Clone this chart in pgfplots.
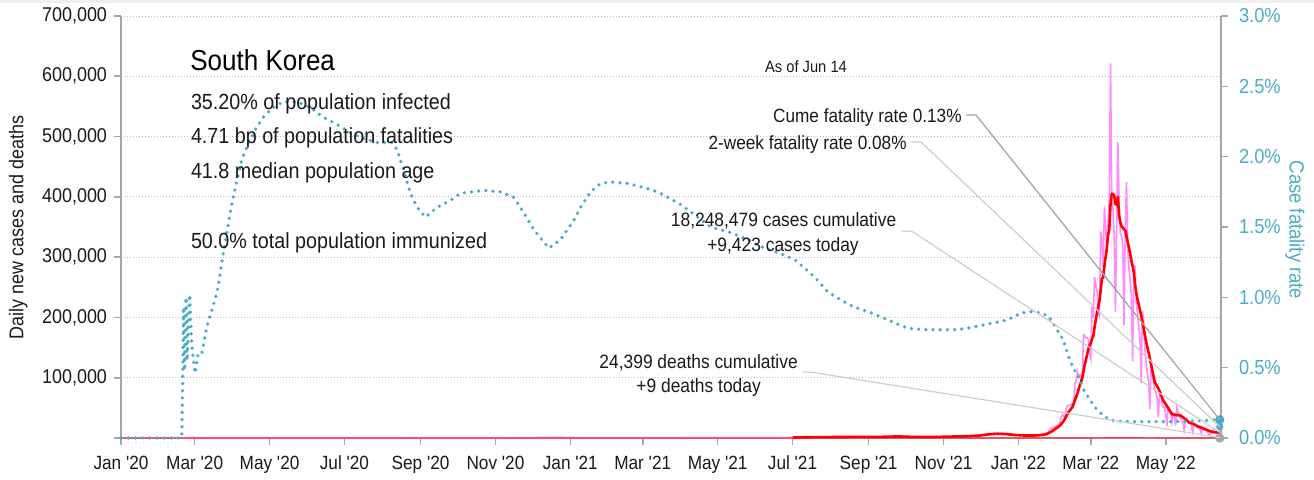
\documentclass[border=0pt]{standalone}
\usepackage{pgfplots}
\pgfplotsset{compat=1.18}
\usepackage{fontspec}
\setmainfont{Liberation Sans}[FakeStretch=0.9,Ligatures=TeXOff]

\definecolor{cfrblue}{HTML}{4BACC6}
\definecolor{casepink}{HTML}{FF8CFF}
\definecolor{avgred}{HTML}{FF0000}
\definecolor{deathred}{HTML}{FF2A4A}
\definecolor{axisgrey}{HTML}{A6A6A6}
\definecolor{gridgrey}{HTML}{BBBBBB}
\definecolor{leaddark}{HTML}{A3A3A3}
\definecolor{leadlight}{HTML}{CDCDCD}
\definecolor{txt}{HTML}{1A1A1A}

% daily new cases
\pgfplotstableread{
day cases
0 0
48 1
52 200
56 500
59 900
62 600
66 400
70 200
80 100
91 100
105 30
121 10
152 40
182 50
213 30
239 440
258 110
274 70
305 100
329 580
349 1000
359 1200
370 700
385 400
411 450
439 380
470 700
500 600
531 550
547 800
556 1400
571 1500
587 2200
602 2100
618 1900
633 3200
648 1600
663 1400
674 2300
689 3200
700 5100
707 7100
714 7800
721 7400
728 5400
735 4400
740 3000
745 4542
746 4194
747 3857
748 4071
749 5805
750 6603
751 6767
752 7009
753 7630
754 7513
755 8571
756 13012
757 14518
758 16096
759 17542
760 17528
761 18341
762 20270
763 20908
764 22907
765 27443
766 36362
767 38691
768 35286
769 36719
770 49567
771 54122
772 53926
773 54941
774 56431
775 53969
776 57177
777 90443
778 93135
779 109831
780 102211
781 104829
782 95362
783 99573
784 171452
785 170016
786 165890
787 166209
788 163565
789 139626
790 131000
791 219241
792 198803
793 266853
794 254327
795 243628
796 210716
797 202721
798 342446
799 327549
800 282987
801 383665
802 350190
803 309790
804 362338
805 400741
806 621328
807 407017
808 381454
809 334708
810 209169
811 353980
812 490881
813 395598
814 339514
815 335580
816 318130
817 187213
818 347554
819 424641
820 320743
821 280273
822 264171
823 234301
824 127190
825 266135
826 286294
827 224820
828 205333
829 185566
830 164481
831 90928
832 210755
833 195419
834 148443
835 125846
836 107916
837 93001
838 47743
839 118504
840 111319
841 90867
842 81058
843 75449
844 64725
845 34370
846 76787
847 76213
848 57464
849 50568
850 50568
851 37771
852 20084
853 51131
854 49064
855 42296
856 26714
857 40064
858 38000
859 20601
860 49933
861 43925
862 35907
863 32451
864 29581
865 25434
866 13296
867 29001
868 31815
869 26974
870 23955
871 25125
872 19298
873 9975
874 23956
875 22248
876 18806
877 16584
878 16931
879 14410
880 7922
881 17186
882 13357
883 14094
884 12542
885 9830
886 6403
887 5021
888 7358
889 13358
890 12161
891 10581
892 9438
893 7382
894 3828
895 9423
}\dailycases

% seven-day average of new cases
\pgfplotstableread{
day avg
547 700
556 1200
570 1480
590 1700
605 1850
620 1950
633 2600
645 1850
660 1600
675 2300
690 3000
700 4200
707 6100
714 7000
721 6400
728 5000
735 4200
744 4100
751 5120
754 6485
758 10621
761 15087
765 20706
768 28838
772 43525
775 51382
779 73704
780 80457
781 87371
782 93284
783 99341
784 110913
785 121896
786 129905
787 139047
788 147438
789 153762
790 158251
791 165078
792 169191
793 183614
794 196202
795 207640
796 217795
797 228041
798 245642
799 264034
800 266339
801 284816
802 300039
803 314193
804 336995
805 345323
806 387291
807 405010
808 404694
809 402482
810 388108
811 386914
812 399791
813 367544
814 357901
815 351347
816 348979
817 345842
818 344924
819 335461
820 324768
821 316305
822 306104
823 294128
824 285553
825 273922
826 254158
827 240455
828 229749
831 203365
835 160205
838 132732
842 92915
845 82327
849 62225
852 52779
856 39661
859 38267
863 37269
866 32932
870 25722
873 23735
877 19427
880 17265
884 13777
887 11205
891 9245
895 9453
}\avgcases

% daily deaths
\pgfplotstableread{
day deaths
0 0
50 0
60 5
90 5
150 1
240 2
350 20
370 20
420 5
547 2
700 50
730 40
790 150
806 300
820 350
850 100
895 9
}\dailydeaths

% case fatality rate, percent
\pgfplotstableread{
day cfr
0 0
48 0
49.5 0
50.2 0.41
51.0 0.93
51.8 0.48
53.0 1.00
53.8 0.55
55.9 1.02
57.7 0.65
60.4 0.46
62.8 0.60
65.8 0.60
69.9 0.79
74.0 0.91
78.1 1.03
80.8 1.17
83.4 1.32
86.2 1.46
88.9 1.60
91.4 1.71
94.4 1.83
98.5 1.98
102.5 2.07
109.3 2.19
115.8 2.28
124.0 2.35
132.1 2.39
143.3 2.39
154.2 2.35
164.8 2.28
175.9 2.23
186.8 2.17
197.4 2.13
208.6 2.10
220.8 2.10
224.9 2.05
230.0 1.91
235.7 1.74
241.2 1.64
248.0 1.57
257.5 1.64
268.4 1.69
276.5 1.74
295.5 1.76
309.1 1.75
320.0 1.71
328.1 1.60
336.3 1.48
348.5 1.35
358.1 1.41
368.9 1.55
374.4 1.64
382.5 1.75
390.7 1.81
398.9 1.82
412.5 1.81
426.0 1.78
436.9 1.75
447.8 1.70
455.9 1.66
466.8 1.59
480.4 1.50
496.7 1.46
510.4 1.41
523.9 1.35
537.5 1.31
548.4 1.27
559.3 1.19
567.5 1.12
575.6 1.04
586.5 0.98
597.3 0.93
610.9 0.89
624.6 0.84
640.9 0.78
654.4 0.77
668.0 0.77
681.6 0.77
695.2 0.79
711.5 0.82
722.4 0.84
733.3 0.89
744.1 0.90
755.1 0.87
761.8 0.78
767.3 0.70
771.4 0.59
775.5 0.50
779.5 0.44
784.9 0.33
793.1 0.22
801.2 0.15
809.4 0.12
825.7 0.116
852.9 0.116
880.1 0.123
895 0.13
}\cfr

\begin{document}
\begin{tikzpicture}
\useasboundingbox (-60.5bp,-21bp) rectangle (596.5bp,219bp);
\fill[black!6] (-60.5bp,217.5bp) rectangle (596.5bp,219bp);

% left axis: cases
\begin{axis}[
  at={(0bp,0bp)}, anchor=south west,
  width=550bp, height=211bp, scale only axis,
  xmin=0, xmax=896, ymin=0, ymax=700000,
  scaled y ticks=false,
  axis lines*=left,
  axis line style={axisgrey, line width=0.8bp},
  tick align=outside, major tick length=3.5bp,
  tick style={axisgrey, line width=0.8bp},
  xtick={0,60,121,182,244,305,366,425,486,547,609,670,731,790,851},
  xticklabels={Jan '20,Mar '20,May '20,Jul '20,Sep '20,Nov '20,Jan '21,Mar '21,May '21,Jul '21,Sep '21,Nov '21,Jan '22,Mar '22,May '22},
  xticklabel style={font=\fontsize{9.6}{11}\selectfont, text=txt, yshift=-2bp},
  ytick={0,100000,200000,300000,400000,500000,600000,700000},
  yticklabels={{},{100,000},{200,000},{300,000},{400,000},{500,000},{600,000},{700,000}},
  yticklabel style={font=\fontsize{10}{12}\selectfont, text=txt},
  ymajorgrids,
  grid style={gridgrey, line width=0.5bp, dash pattern=on 0.5bp off 1bp},
  clip=false,
]
\addplot[casepink, line width=0.8bp] table[x=day, y=cases] {\dailycases};
\addplot[deathred, line width=0.6bp] table[x=day, y=deaths] {\dailydeaths};
\addplot[avgred, line width=1.3bp, line join=round] table[x=day, y=avg] {\avgcases};
\addplot[only marks, mark=*, mark size=2.1bp, mark options={fill=axisgrey, draw=axisgrey}] coordinates {(895,9)};
\end{axis}

% right axis: case fatality rate
\begin{axis}[
  at={(0bp,0bp)}, anchor=south west,
  width=550bp, height=211bp, scale only axis,
  xmin=0, xmax=896, ymin=0, ymax=3,
  axis x line=none, axis y line*=right,
  axis line style={axisgrey, line width=0.8bp},
  tick align=outside, major tick length=3.5bp,
  tick style={axisgrey, line width=0.8bp},
  ytick={0,0.5,1,1.5,2,2.5,3},
  yticklabels={0.0\%,0.5\%,1.0\%,1.5\%,2.0\%,2.5\%,3.0\%},
  yticklabel style={font=\fontsize{10.2}{12}\selectfont, text=cfrblue, xshift=2bp},
  clip=false,
]
\addplot[cfrblue, line width=1.85bp, line cap=round, dash pattern=on 0bp off 3.6bp] table[x=day, y=cfr] {\cfr};
\addplot[only marks, mark=*, mark size=2.1bp, mark options={fill=cfrblue, draw=cfrblue}] coordinates {(895,0.13)};
\addplot[only marks, mark=*, mark size=1.6bp, mark options={fill=cfrblue, draw=cfrblue}] coordinates {(895,0.08)};
\end{axis}

% leader lines to the latest values
\draw[leaddark, line width=0.6bp] (422.5bp,161.5bp) -- (427.5bp,161.5bp) -- (549.4bp,9.1bp);
\draw[leadlight, line width=0.6bp] (395bp,148bp) -- (400bp,148bp) -- (549.4bp,5.6bp);
\draw[leadlight, line width=0.6bp] (390.5bp,103.5bp) -- (395.5bp,103.3bp) -- (549.4bp,2.8bp);
\draw[leadlight, line width=0.6bp] (341bp,33bp) -- (346bp,32.8bp) -- (549.4bp,0.2bp);

% axis titles
\node[rotate=90, font=\fontsize{10}{12}\selectfont, text=txt] at (-51.4bp,105.3bp) {Daily new cases and deaths};
\node[rotate=-90, font=\fontsize{10.3}{12}\selectfont, text=cfrblue] at (587bp,104bp) {Case fatality rate};

% country summary
\node[anchor=base west, inner sep=0pt, font=\fontsize{14.5}{17}\selectfont, text=black] at (34.5bp,183.5bp) {South Korea};
\node[anchor=base west, inner sep=0pt, font=\fontsize{11}{13}\selectfont, text=txt] at (34.8bp,164.3bp) {35.20\% of population infected};
\node[anchor=base west, inner sep=0pt, font=\fontsize{11}{13}\selectfont, text=txt] at (34.8bp,147bp) {4.71 bp of population fatalities};
\node[anchor=base west, inner sep=0pt, font=\fontsize{11}{13}\selectfont, text=txt] at (34.8bp,129.8bp) {41.8 median population age};
\node[anchor=base west, inner sep=0pt, font=\fontsize{11}{13}\selectfont, text=txt] at (34.8bp,94.8bp) {50.0\% total population immunized};

% annotations
\node[anchor=base, inner sep=0pt, font=\fontsize{8.2}{10}\selectfont, text=txt] at (342.5bp,182.5bp) {As of Jun 14};
\node[anchor=base east, inner sep=0pt, font=\fontsize{9.6}{11}\selectfont, text=txt] at (420.5bp,157.5bp) {Cume fatality rate 0.13\%};
\node[anchor=base east, inner sep=0pt, font=\fontsize{9.6}{11}\selectfont, text=txt] at (393bp,144bp) {2-week fatality rate 0.08\%};
\node[anchor=base, inner sep=0pt, font=\fontsize{9.7}{11}\selectfont, text=txt] at (331.3bp,105.7bp) {18,248,479 cases cumulative};
\node[anchor=base, inner sep=0pt, font=\fontsize{9.7}{11}\selectfont, text=txt] at (331bp,93bp) {+9,423 cases today};
\node[anchor=base, inner sep=0pt, font=\fontsize{9.7}{11}\selectfont, text=txt] at (288.8bp,35bp) {24,399 deaths cumulative};
\node[anchor=base, inner sep=0pt, font=\fontsize{9.7}{11}\selectfont, text=txt] at (288.8bp,23bp) {+9 deaths today};
\end{tikzpicture}
\end{document}
